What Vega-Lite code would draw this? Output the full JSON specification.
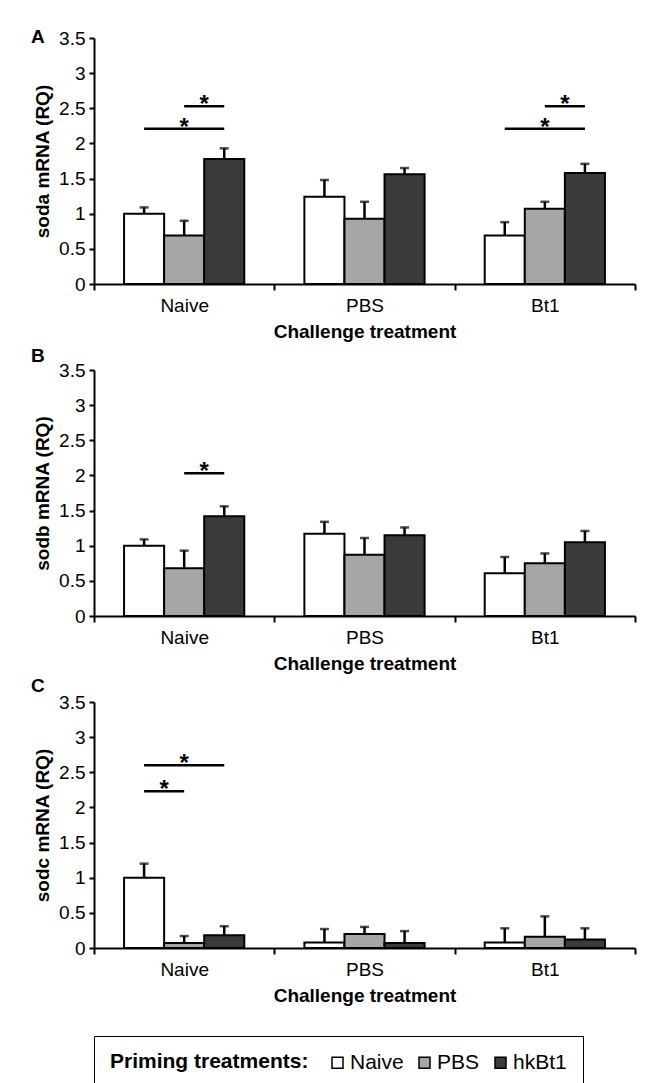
{
  "$schema": "https://vega.github.io/schema/vega-lite/v6.json",
  "background": "white",
  "padding": {"left": 31, "top": 28, "right": 5, "bottom": 5},
  "bounds": "flush",
  "spacing": 86,
  "datasets": {
    "bars": [
      {"panel": "A", "challenge": "Naive", "priming": "Naive", "mean": 1.00, "upper": 1.09},
      {"panel": "A", "challenge": "Naive", "priming": "PBS", "mean": 0.69, "upper": 0.90},
      {"panel": "A", "challenge": "Naive", "priming": "hkBt1", "mean": 1.78, "upper": 1.93},
      {"panel": "A", "challenge": "PBS", "priming": "Naive", "mean": 1.24, "upper": 1.48},
      {"panel": "A", "challenge": "PBS", "priming": "PBS", "mean": 0.93, "upper": 1.17},
      {"panel": "A", "challenge": "PBS", "priming": "hkBt1", "mean": 1.56, "upper": 1.65},
      {"panel": "A", "challenge": "Bt1", "priming": "Naive", "mean": 0.69, "upper": 0.88},
      {"panel": "A", "challenge": "Bt1", "priming": "PBS", "mean": 1.07, "upper": 1.17},
      {"panel": "A", "challenge": "Bt1", "priming": "hkBt1", "mean": 1.58, "upper": 1.71},
      {"panel": "B", "challenge": "Naive", "priming": "Naive", "mean": 1.00, "upper": 1.09},
      {"panel": "B", "challenge": "Naive", "priming": "PBS", "mean": 0.68, "upper": 0.93},
      {"panel": "B", "challenge": "Naive", "priming": "hkBt1", "mean": 1.42, "upper": 1.56},
      {"panel": "B", "challenge": "PBS", "priming": "Naive", "mean": 1.17, "upper": 1.34},
      {"panel": "B", "challenge": "PBS", "priming": "PBS", "mean": 0.87, "upper": 1.11},
      {"panel": "B", "challenge": "PBS", "priming": "hkBt1", "mean": 1.15, "upper": 1.26},
      {"panel": "B", "challenge": "Bt1", "priming": "Naive", "mean": 0.61, "upper": 0.84},
      {"panel": "B", "challenge": "Bt1", "priming": "PBS", "mean": 0.75, "upper": 0.89},
      {"panel": "B", "challenge": "Bt1", "priming": "hkBt1", "mean": 1.05, "upper": 1.21},
      {"panel": "C", "challenge": "Naive", "priming": "Naive", "mean": 1.00, "upper": 1.20},
      {"panel": "C", "challenge": "Naive", "priming": "PBS", "mean": 0.07, "upper": 0.17},
      {"panel": "C", "challenge": "Naive", "priming": "hkBt1", "mean": 0.18, "upper": 0.31},
      {"panel": "C", "challenge": "PBS", "priming": "Naive", "mean": 0.08, "upper": 0.27},
      {"panel": "C", "challenge": "PBS", "priming": "PBS", "mean": 0.20, "upper": 0.30},
      {"panel": "C", "challenge": "PBS", "priming": "hkBt1", "mean": 0.07, "upper": 0.24},
      {"panel": "C", "challenge": "Bt1", "priming": "Naive", "mean": 0.08, "upper": 0.28},
      {"panel": "C", "challenge": "Bt1", "priming": "PBS", "mean": 0.16, "upper": 0.45},
      {"panel": "C", "challenge": "Bt1", "priming": "hkBt1", "mean": 0.12, "upper": 0.28}
    ],
    "sig": [
      {"panel": "A", "pair": "A1", "challenge": "Naive", "priming": "Naive", "level": 2.21},
      {"panel": "A", "pair": "A1", "challenge": "Naive", "priming": "hkBt1", "level": 2.21},
      {"panel": "A", "pair": "A2", "challenge": "Naive", "priming": "PBS", "level": 2.53},
      {"panel": "A", "pair": "A2", "challenge": "Naive", "priming": "hkBt1", "level": 2.53},
      {"panel": "A", "pair": "A3", "challenge": "Bt1", "priming": "Naive", "level": 2.21},
      {"panel": "A", "pair": "A3", "challenge": "Bt1", "priming": "hkBt1", "level": 2.21},
      {"panel": "A", "pair": "A4", "challenge": "Bt1", "priming": "PBS", "level": 2.53},
      {"panel": "A", "pair": "A4", "challenge": "Bt1", "priming": "hkBt1", "level": 2.53},
      {"panel": "B", "pair": "B1", "challenge": "Naive", "priming": "PBS", "level": 2.03},
      {"panel": "B", "pair": "B1", "challenge": "Naive", "priming": "hkBt1", "level": 2.03},
      {"panel": "C", "pair": "C1", "challenge": "Naive", "priming": "Naive", "level": 2.23},
      {"panel": "C", "pair": "C1", "challenge": "Naive", "priming": "PBS", "level": 2.23},
      {"panel": "C", "pair": "C2", "challenge": "Naive", "priming": "Naive", "level": 2.60},
      {"panel": "C", "pair": "C2", "challenge": "Naive", "priming": "hkBt1", "level": 2.60}
    ],
    "stars": [
      {"panel": "A", "challenge": "Naive", "priming": "PBS", "kind": "center", "level": 2.21, "sig": "*"},
      {"panel": "A", "challenge": "Naive", "priming": "PBS", "kind": "between", "level": 2.53, "sig": "*"},
      {"panel": "A", "challenge": "Bt1", "priming": "PBS", "kind": "center", "level": 2.21, "sig": "*"},
      {"panel": "A", "challenge": "Bt1", "priming": "PBS", "kind": "between", "level": 2.53, "sig": "*"},
      {"panel": "B", "challenge": "Naive", "priming": "PBS", "kind": "between", "level": 2.03, "sig": "*"},
      {"panel": "C", "challenge": "Naive", "priming": "Naive", "kind": "between", "level": 2.23, "sig": "*"},
      {"panel": "C", "challenge": "Naive", "priming": "PBS", "kind": "center", "level": 2.60, "sig": "*"}
    ]
  },
  "vconcat": [
    {
      "width": 541, "height": 246,
      "title": {"text": "A", "anchor": "start", "frame": "group", "dx": -63, "dy": 33, "offset": 0, "baseline": "alphabetic"},
      "encoding": {
        "x": {"field": "challenge", "type": "nominal", "sort": ["Naive", "PBS", "Bt1"], "scale": {"domain": ["Naive", "PBS", "Bt1"], "paddingInner": 0, "paddingOuter": 0}, "axis": {"title": "Challenge treatment"}},
        "xOffset": {"field": "priming", "type": "nominal", "sort": ["Naive", "PBS", "hkBt1"], "scale": {"domain": ["Naive", "PBS", "hkBt1"], "paddingInner": 0, "paddingOuter": 0.75}}
      },
      "layer": [
        {"data": {"name": "bars"}, "transform": [{"filter": "datum.panel === 'A'"}],
         "mark": {"type": "bar", "stroke": "black", "strokeWidth": 2},
         "encoding": {
           "y": {"field": "mean", "type": "quantitative", "scale": {"domain": [0, 3.5]}, "axis": {"title": "soda mRNA (RQ)", "values": [0, 0.5, 1, 1.5, 2, 2.5, 3, 3.5], "format": "~g", "labelOverlap": false}},
           "color": {"field": "priming", "type": "nominal", "scale": {"domain": ["Naive", "PBS", "hkBt1"], "range": ["#ffffff", "#a6a6a6", "#3b3b3b"]},
             "legend": {"orient": "none", "legendX": 0, "legendY": 998, "direction": "horizontal",
               "title": "Priming treatments:", "titleOrient": "left", "titleFontSize": 21, "titleFontWeight": "bold", "titleColor": "black", "titlePadding": 18, "titleLimit": 400,
               "labelFontSize": 21, "labelColor": "black", "labelOffset": 2, "columnPadding": 10, "labelLimit": 200,
               "symbolType": "square", "symbolSize": 121, "symbolStrokeColor": "black", "symbolStrokeWidth": 1.5,
               "strokeColor": "black", "padding": 16, "fillColor": "white"}}
         }},
        {"data": {"name": "bars"}, "transform": [{"filter": "datum.panel === 'A'"}],
         "mark": {"type": "rule", "color": "black", "strokeWidth": 2.5},
         "encoding": {"y": {"field": "mean", "type": "quantitative", "axis": {"title": "soda mRNA (RQ)", "values": [0, 0.5, 1, 1.5, 2, 2.5, 3, 3.5], "format": "~g", "labelOverlap": false}}, "y2": {"field": "upper"}}},
        {"data": {"name": "bars"}, "transform": [{"filter": "datum.panel === 'A'"}],
         "mark": {"type": "tick", "color": "black", "size": 9, "thickness": 2.5},
         "encoding": {"y": {"field": "upper", "type": "quantitative", "axis": {"title": "soda mRNA (RQ)", "values": [0, 0.5, 1, 1.5, 2, 2.5, 3, 3.5], "format": "~g", "labelOverlap": false}}}},
        {"data": {"name": "sig"}, "transform": [{"filter": "datum.panel === 'A'"}],
         "mark": {"type": "line", "color": "black", "strokeWidth": 2.5},
         "encoding": {"y": {"field": "level", "type": "quantitative", "axis": {"title": "soda mRNA (RQ)", "values": [0, 0.5, 1, 1.5, 2, 2.5, 3, 3.5], "format": "~g", "labelOverlap": false}}, "detail": {"field": "pair"}}},
        {"data": {"name": "stars"}, "transform": [{"filter": "datum.panel === 'A' && datum.kind === 'center'"}],
         "mark": {"type": "text", "fontSize": 24, "fontWeight": "bold", "baseline": "alphabetic", "dy": 6, "color": "black"},
         "encoding": {"y": {"field": "level", "type": "quantitative", "axis": {"title": "soda mRNA (RQ)", "values": [0, 0.5, 1, 1.5, 2, 2.5, 3, 3.5], "format": "~g", "labelOverlap": false}}, "text": {"field": "sig"}}},
        {"data": {"name": "stars"}, "transform": [{"filter": "datum.panel === 'A' && datum.kind === 'between'"}],
         "mark": {"type": "text", "fontSize": 24, "fontWeight": "bold", "baseline": "alphabetic", "dy": 6, "dx": 20, "color": "black"},
         "encoding": {"y": {"field": "level", "type": "quantitative", "axis": {"title": "soda mRNA (RQ)", "values": [0, 0.5, 1, 1.5, 2, 2.5, 3, 3.5], "format": "~g", "labelOverlap": false}}, "text": {"field": "sig"}}}
      ]
    },
    {
      "width": 541, "height": 246,
      "title": {"text": "B", "anchor": "start", "frame": "group", "dx": -63, "dy": 20, "offset": 0, "baseline": "alphabetic"},
      "encoding": {
        "x": {"field": "challenge", "type": "nominal", "sort": ["Naive", "PBS", "Bt1"], "scale": {"domain": ["Naive", "PBS", "Bt1"], "paddingInner": 0, "paddingOuter": 0}, "axis": {"title": "Challenge treatment"}},
        "xOffset": {"field": "priming", "type": "nominal", "sort": ["Naive", "PBS", "hkBt1"], "scale": {"domain": ["Naive", "PBS", "hkBt1"], "paddingInner": 0, "paddingOuter": 0.75}}
      },
      "layer": [
        {"data": {"name": "bars"}, "transform": [{"filter": "datum.panel === 'B'"}],
         "mark": {"type": "bar", "stroke": "black", "strokeWidth": 2},
         "encoding": {
           "y": {"field": "mean", "type": "quantitative", "scale": {"domain": [0, 3.5]}, "axis": {"title": "sodb mRNA (RQ)", "values": [0, 0.5, 1, 1.5, 2, 2.5, 3, 3.5], "format": "~g", "labelOverlap": false}},
           "color": {"field": "priming", "type": "nominal", "scale": {"domain": ["Naive", "PBS", "hkBt1"], "range": ["#ffffff", "#a6a6a6", "#3b3b3b"]}}
         }},
        {"data": {"name": "bars"}, "transform": [{"filter": "datum.panel === 'B'"}],
         "mark": {"type": "rule", "color": "black", "strokeWidth": 2.5},
         "encoding": {"y": {"field": "mean", "type": "quantitative", "axis": {"title": "sodb mRNA (RQ)", "values": [0, 0.5, 1, 1.5, 2, 2.5, 3, 3.5], "format": "~g", "labelOverlap": false}}, "y2": {"field": "upper"}}},
        {"data": {"name": "bars"}, "transform": [{"filter": "datum.panel === 'B'"}],
         "mark": {"type": "tick", "color": "black", "size": 9, "thickness": 2.5},
         "encoding": {"y": {"field": "upper", "type": "quantitative", "axis": {"title": "sodb mRNA (RQ)", "values": [0, 0.5, 1, 1.5, 2, 2.5, 3, 3.5], "format": "~g", "labelOverlap": false}}}},
        {"data": {"name": "sig"}, "transform": [{"filter": "datum.panel === 'B'"}],
         "mark": {"type": "line", "color": "black", "strokeWidth": 2.5},
         "encoding": {"y": {"field": "level", "type": "quantitative", "axis": {"title": "sodb mRNA (RQ)", "values": [0, 0.5, 1, 1.5, 2, 2.5, 3, 3.5], "format": "~g", "labelOverlap": false}}, "detail": {"field": "pair"}}},
        {"data": {"name": "stars"}, "transform": [{"filter": "datum.panel === 'B' && datum.kind === 'between'"}],
         "mark": {"type": "text", "fontSize": 24, "fontWeight": "bold", "baseline": "alphabetic", "dy": 6, "dx": 20, "color": "black"},
         "encoding": {"y": {"field": "level", "type": "quantitative", "axis": {"title": "sodb mRNA (RQ)", "values": [0, 0.5, 1, 1.5, 2, 2.5, 3, 3.5], "format": "~g", "labelOverlap": false}}, "text": {"field": "sig"}}}
      ]
    },
    {
      "width": 541, "height": 246,
      "title": {"text": "C", "anchor": "start", "frame": "group", "dx": -63, "dy": 18, "offset": 0, "baseline": "alphabetic"},
      "encoding": {
        "x": {"field": "challenge", "type": "nominal", "sort": ["Naive", "PBS", "Bt1"], "scale": {"domain": ["Naive", "PBS", "Bt1"], "paddingInner": 0, "paddingOuter": 0}, "axis": {"title": "Challenge treatment"}},
        "xOffset": {"field": "priming", "type": "nominal", "sort": ["Naive", "PBS", "hkBt1"], "scale": {"domain": ["Naive", "PBS", "hkBt1"], "paddingInner": 0, "paddingOuter": 0.75}}
      },
      "layer": [
        {"data": {"name": "bars"}, "transform": [{"filter": "datum.panel === 'C'"}],
         "mark": {"type": "bar", "stroke": "black", "strokeWidth": 2},
         "encoding": {
           "y": {"field": "mean", "type": "quantitative", "scale": {"domain": [0, 3.5]}, "axis": {"title": "sodc mRNA (RQ)", "values": [0, 0.5, 1, 1.5, 2, 2.5, 3, 3.5], "format": "~g", "labelOverlap": false}},
           "color": {"field": "priming", "type": "nominal", "scale": {"domain": ["Naive", "PBS", "hkBt1"], "range": ["#ffffff", "#a6a6a6", "#3b3b3b"]}}
         }},
        {"data": {"name": "bars"}, "transform": [{"filter": "datum.panel === 'C'"}],
         "mark": {"type": "rule", "color": "black", "strokeWidth": 2.5},
         "encoding": {"y": {"field": "mean", "type": "quantitative", "axis": {"title": "sodc mRNA (RQ)", "values": [0, 0.5, 1, 1.5, 2, 2.5, 3, 3.5], "format": "~g", "labelOverlap": false}}, "y2": {"field": "upper"}}},
        {"data": {"name": "bars"}, "transform": [{"filter": "datum.panel === 'C'"}],
         "mark": {"type": "tick", "color": "black", "size": 9, "thickness": 2.5},
         "encoding": {"y": {"field": "upper", "type": "quantitative", "axis": {"title": "sodc mRNA (RQ)", "values": [0, 0.5, 1, 1.5, 2, 2.5, 3, 3.5], "format": "~g", "labelOverlap": false}}}},
        {"data": {"name": "sig"}, "transform": [{"filter": "datum.panel === 'C'"}],
         "mark": {"type": "line", "color": "black", "strokeWidth": 2.5},
         "encoding": {"y": {"field": "level", "type": "quantitative", "axis": {"title": "sodc mRNA (RQ)", "values": [0, 0.5, 1, 1.5, 2, 2.5, 3, 3.5], "format": "~g", "labelOverlap": false}}, "detail": {"field": "pair"}}},
        {"data": {"name": "stars"}, "transform": [{"filter": "datum.panel === 'C' && datum.kind === 'center'"}],
         "mark": {"type": "text", "fontSize": 24, "fontWeight": "bold", "baseline": "alphabetic", "dy": 6, "color": "black"},
         "encoding": {"y": {"field": "level", "type": "quantitative", "axis": {"title": "sodc mRNA (RQ)", "values": [0, 0.5, 1, 1.5, 2, 2.5, 3, 3.5], "format": "~g", "labelOverlap": false}}, "text": {"field": "sig"}}},
        {"data": {"name": "stars"}, "transform": [{"filter": "datum.panel === 'C' && datum.kind === 'between'"}],
         "mark": {"type": "text", "fontSize": 24, "fontWeight": "bold", "baseline": "alphabetic", "dy": 6, "dx": 20, "color": "black"},
         "encoding": {"y": {"field": "level", "type": "quantitative", "axis": {"title": "sodc mRNA (RQ)", "values": [0, 0.5, 1, 1.5, 2, 2.5, 3, 3.5], "format": "~g", "labelOverlap": false}}, "text": {"field": "sig"}}}
      ]
    }
  ],
  "config": {
    "font": "Liberation Sans",
    "view": {"stroke": null},
    "title": {"fontSize": 19, "fontWeight": "bold", "font": "Liberation Sans", "color": "black"},
    "axis": {"domainColor": "black", "domainWidth": 2, "tickColor": "black", "tickWidth": 2, "labelFont": "Liberation Sans", "labelFontSize": 19, "labelColor": "black", "labelOverlap": false, "titleFont": "Liberation Sans", "titleFontSize": 19, "titleFontWeight": "bold", "titleColor": "black", "grid": false},
    "axisX": {"tickSize": 6, "labelPadding": 6, "titlePadding": 7, "labelAngle": 0, "tickBand": "extent"},
    "axisY": {"tickSize": 5, "labelPadding": 4, "titlePadding": 6},
    "legend": {"labelFont": "Liberation Sans", "titleFont": "Liberation Sans"}
  }
}
